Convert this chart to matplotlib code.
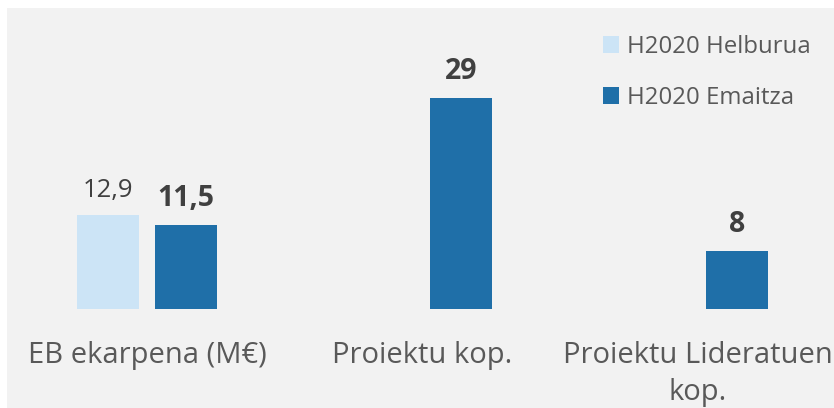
import numpy as np
import matplotlib.pyplot as plt
from matplotlib.patches import Rectangle

# Data
categories = ["EB ekarpena (M€)", "Proiektu kop.", "Proiektu Lideratuen\nkop."]
helburua = [12.9, np.nan, np.nan]
emaitza = [11.5, 29, 8]
helburua_labels = ["12,9", "", ""]
emaitza_labels = ["11,5", "29", "8"]

plt.rcParams['font.family'] = ['Open Sans', 'DejaVu Sans']

fig = plt.figure(figsize=(8.34, 4.08), dpi=100)
fig.patch.set_facecolor("white")
# grey chart panel
fig.patches.append(Rectangle((7 / 834, 0), 827 / 834, 400 / 408,
                             transform=fig.transFigure, facecolor="#f2f2f2",
                             edgecolor="none", zorder=-10))

ax = fig.add_axes([7 / 834, 99 / 408, 827 / 834, 301 / 408])
ax.set_facecolor("none")

x = np.arange(len(categories))
w = 0.225
off = 0.1416
light = "#cce4f6"
dark = "#1f6fa8"

b1 = ax.bar(x - off, helburua, w, color=light, label="H2020 Helburua")
b2 = ax.bar(x + off, emaitza, w, color=dark, label="H2020 Emaitza")

for xi, v, lab in zip(x, helburua, helburua_labels):
    if lab:
        ax.text(xi - off, v + 2.5, lab, ha="center", va="baseline",
                fontsize=18.5, color="#404040")
for xi, v, lab in zip(x, emaitza, emaitza_labels):
    ax.text(xi + off, v + 2.6, lab, ha="center", va="baseline",
            fontsize=20.5, fontweight="bold", color="#404040")

ax.set_xlim(-0.508, 2.494)
ax.set_ylim(0, 41.35)
ax.set_xticks(x)
ax.set_xticklabels(categories, fontsize=21, color="#595959", linespacing=1.35)
ax.tick_params(axis="x", length=0, pad=23)
ax.set_yticks([])
for s in ax.spines.values():
    s.set_visible(False)

leg = ax.legend(handles=[b1, b2], loc="upper left",
                bbox_to_anchor=(603 / 834, 1 - 35 / 408),
                bbox_transform=fig.transFigure, frameon=False,
                fontsize=17.3, handlelength=0.68, handleheight=0.68,
                handletextpad=0.3, labelspacing=1.12, borderpad=0,
                borderaxespad=0)
for t in leg.get_texts():
    t.set_color("#595959")

plt.savefig("out.png", dpi=100)
